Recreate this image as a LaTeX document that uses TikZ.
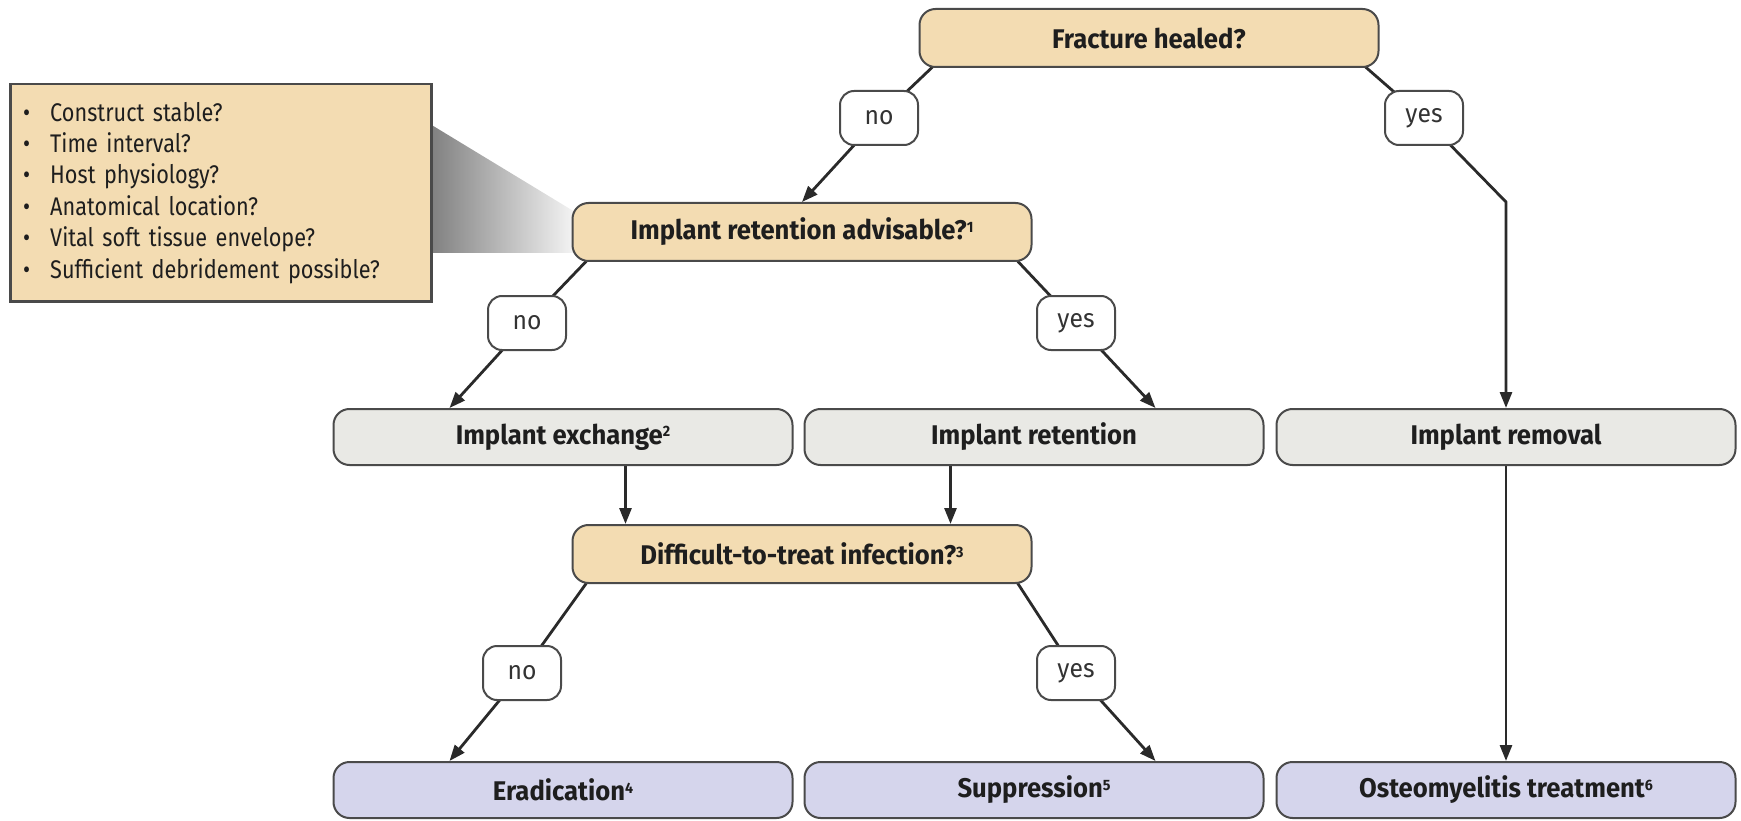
\documentclass[tikz,border=0pt]{standalone}
\usepackage{fontspec}
\setmainfont[FakeStretch=0.95]{Fira Sans}
\newfontfamily\infofont[FakeStretch=0.85]{Fira Sans}
\usetikzlibrary{arrows.meta,calc,backgrounds}

\definecolor{tanc}{HTML}{F3DCB2}
\definecolor{grayc}{HTML}{E9E9E5}
\definecolor{lavc}{HTML}{D5D5EC}
\definecolor{bordc}{HTML}{4A4A4A}
\definecolor{linec}{HTML}{2A2A2A}
\definecolor{txtc}{HTML}{1E1E1E}
\definecolor{lbltxt}{HTML}{333333}

\newcommand{\supn}[1]{\raisebox{7.5pt}{\fontsize{15}{15}\selectfont #1}}
\newcommand{\bul}{\makebox[27pt][l]{\textbullet}}

\tikzset{
  box/.style={draw=bordc, line width=2pt, rounded corners=16pt, minimum width=459pt,
    minimum height=56pt, inner sep=0pt, text=txtc,
    font=\fontsize{27}{31}\selectfont\bfseries},
  dec/.style={box, fill=tanc, minimum height=58pt},
  act/.style={box, fill=grayc},
  res/.style={box, fill=lavc},
  lbl/.style={draw=bordc, line width=2pt, fill=white, rounded corners=14pt,
    minimum width=78pt, minimum height=54pt, inner sep=0pt, text=lbltxt,
    font=\fontsize{26}{30}\selectfont},
  conn/.style={draw=linec, line width=2.8pt},
  arr/.style={conn, -{Triangle[length=16pt,width=12pt]}},
  infobox/.style={draw=bordc, line width=2.5pt, fill=tanc, minimum width=421pt,
    minimum height=217pt, inner xsep=13pt, inner ysep=0pt, text width=395pt,
    align=left, text=txtc, font=\infofont\fontsize{25.5}{31.4}\selectfont}
}

\begin{document}
\begin{tikzpicture}[x=1pt,y=-1pt]
\useasboundingbox (0,0) rectangle (1741,821);

% shaded wedge
\shade[left color=black!50, right color=black!4] (430,124) -- (575,212) -- (575,253) -- (430,253) -- cycle;

\node[infobox, anchor=north west] (info) at (9,83) {%
\bul Construct stable?\\
\bul Time interval?\\
\bul Host physiology?\\
\bul Anatomical location?\\
\bul Vital soft tissue envelope?\\
\bul Sufficient debridement possible?};

\node[dec] (fh)  at (1149,38)  {Fracture healed?};
\node[dec] (ira) at (802,232)  {Implant retention advisable?\supn{1}};
\node[act] (ie)  at (563,437)  {Implant exchange\supn{2}};
\node[act] (ir)  at (1034,437) {Implant retention};
\node[act] (irm) at (1506,437) {Implant removal};
\node[dec] (dti) at (802,554)  {Difficult-to-treat infection?\supn{3}};
\node[res] (er)  at (563,790)  {Eradication\supn{4}};
\node[res] (su)  at (1034,790) {Suppression\supn{5}};
\node[res] (os)  at (1506,790) {Osteomyelitis treatment\supn{6}};

\node[lbl] (no1)  at (879,118)  {no};
\node[lbl] (yes1) at (1424,118) {yes};
\node[lbl] (no2)  at (527,323)  {no};
\node[lbl] (yes2) at (1076,323) {yes};
\node[lbl] (no3)  at (522,673)  {no};
\node[lbl] (yes3) at (1076,673) {yes};

\begin{pgfonlayer}{background}
\draw[conn] ($(fh.south west)+(14,-1)$) -- (no1.center);
\draw[arr] (no1.center) -- (ira.north);
\draw[conn] ($(fh.south east)+(-14,-1)$) -- (yes1.center);
\draw[arr] (yes1.center) -- (irm.north |- ira.north) -- (irm.north);
\draw[conn] ($(ira.south west)+(15,-1)$) -- (no2.center);
\draw[arr] (no2.center) -- ($(ie.north west)+(117,0)$);
\draw[conn] ($(ira.south east)+(-15,-1)$) -- (yes2.center);
\draw[arr] (yes2.center) -- ($(ir.north east)+(-109,0)$);
\coordinate (d1) at ($(dti.north west)+(54,0)$);
\coordinate (d2) at ($(dti.north east)+(-82,0)$);
\draw[arr] (ie.south -| d1) -- (d1);
\draw[arr] (ir.south -| d2) -- (d2);
\draw[arr] (irm.south) -- (os.north);
\draw[conn] ($(dti.south west)+(15,-1)$) -- (no3.center);
\draw[arr] (no3.center) -- ($(er.north west)+(117,0)$);
\draw[conn] ($(dti.south east)+(-15,-1)$) -- (yes3.center);
\draw[arr] (yes3.center) -- ($(su.north east)+(-109,0)$);
\end{pgfonlayer}
\end{tikzpicture}
\end{document}
